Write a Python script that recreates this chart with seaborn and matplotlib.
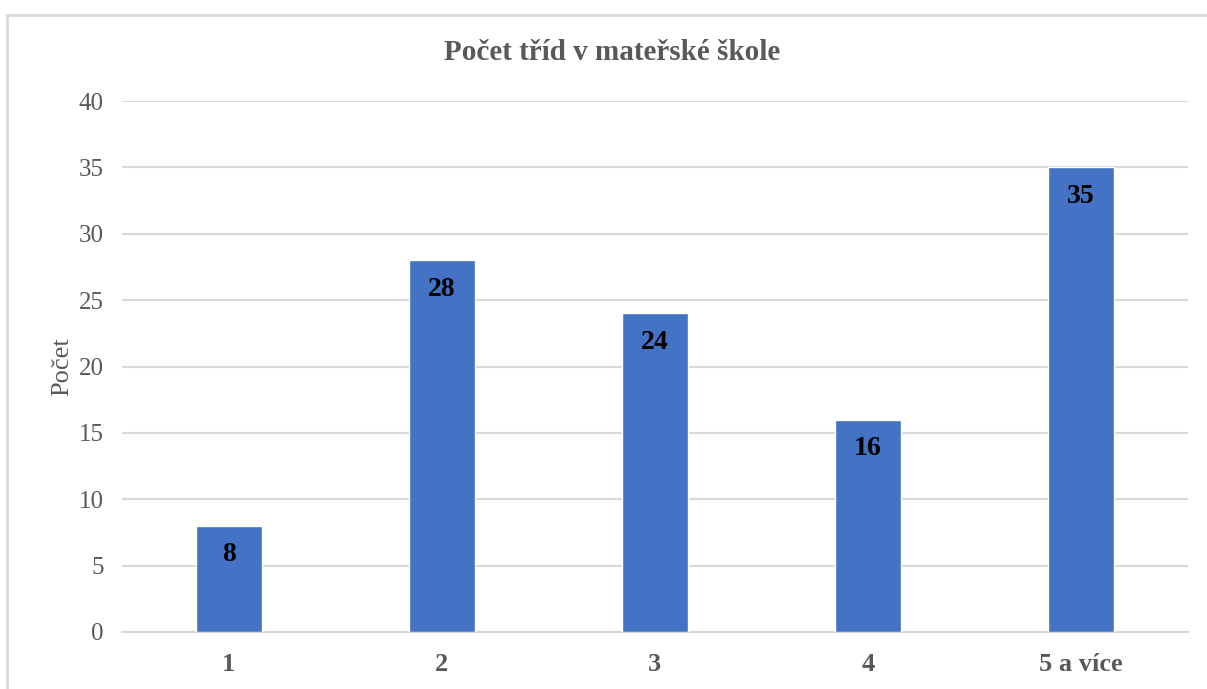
import matplotlib
matplotlib.use("Agg")
import matplotlib.pyplot as plt
from matplotlib.patches import Rectangle
import seaborn as sns
import pandas as pd

categories = ["1", "2", "3", "4", "5 a více"]
counts = [8, 28, 24, 16, 35]
y_ticks = [0, 5, 10, 15, 20, 25, 30, 35, 40]

title = "Počet tříd v mateřské škole"
y_label = "Počet"

bar_color = "#4472C4"
grid_color = "#D9D9D9"
text_color = "#595959"

sns.set_theme(style="white")
plt.rcParams["font.family"] = ["Liberation Serif", "DejaVu Serif"]

df = pd.DataFrame({"kategorie": categories, "pocet": counts})

fig = plt.figure(figsize=(12.07, 6.89), dpi=100)
ax = fig.add_axes([122 / 1207, 1 - 632 / 689, (1187.5 - 122) / 1207, (632 - 101) / 689])

sns.barplot(data=df, x="kategorie", y="pocet", color=bar_color, saturation=1,
            width=0.31, ax=ax, zorder=3)

ax.set_ylim(0, 40)
ax.set_yticks(y_ticks)
ax.set_yticklabels([str(t) for t in y_ticks], fontsize=18, color=text_color)
ax.set_xticks(range(len(categories)))
ax.set_xticklabels(categories, fontsize=19, fontweight="bold", color=text_color)
ax.tick_params(axis="y", length=0, pad=13)
ax.tick_params(axis="x", length=0, pad=15)

ax.grid(axis="y", color=grid_color, linewidth=1.5, zorder=0)
for side in ["top", "right", "left"]:
    ax.spines[side].set_visible(False)
ax.spines["bottom"].set_color(grid_color)
ax.spines["bottom"].set_linewidth(1.5)

ax.set_xlabel("")
ax.set_ylabel(y_label, fontsize=19, color=text_color, labelpad=4)

for patch, val in zip(ax.patches, counts):
    ax.annotate(str(val), (patch.get_x() + patch.get_width() / 2, patch.get_height()),
                xytext=(0, -21), textcoords="offset points", ha="center", va="center",
                fontsize=20, fontweight="bold", color="black", zorder=4)

fig.text(612 / 1207, 1 - 52 / 689, title, ha="center", va="center",
         fontsize=21, fontweight="bold", color=text_color)

fig.add_artist(Rectangle((7 / 1207, -0.1), 1.2, 1.1 - 15 / 689, transform=fig.transFigure,
                         fill=False, edgecolor=grid_color, linewidth=2))

fig.savefig("out.png", dpi=100)
